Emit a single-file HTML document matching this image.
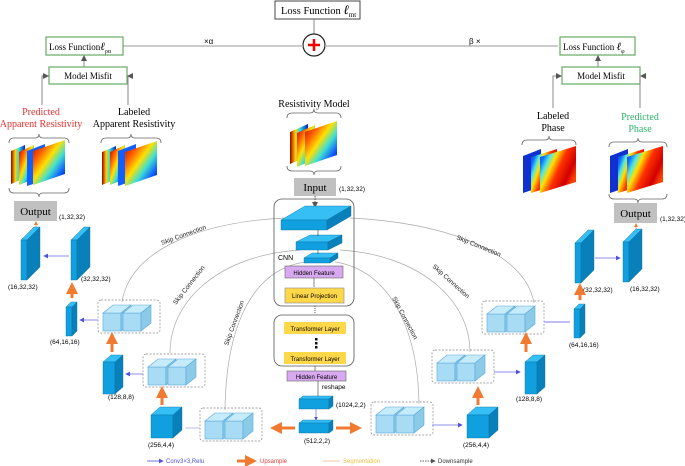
<!DOCTYPE html>
<html><head><meta charset="utf-8"><style>
html,body{margin:0;padding:0;background:#fff}
svg{display:block;font-family:"Liberation Sans",sans-serif}
.s{font-family:"Liberation Serif",serif}
</style></head><body>
<svg width="685" height="466" viewBox="0 0 685 466" xmlns="http://www.w3.org/2000/svg">
<defs>
<linearGradient id="jet" x1="0" y1="0" x2="1" y2="1">
<stop offset="0" stop-color="#b00000"/><stop offset="0.25" stop-color="#ff5a00"/><stop offset="0.45" stop-color="#ffe000"/><stop offset="0.62" stop-color="#40e0d0"/><stop offset="0.8" stop-color="#1060ff"/><stop offset="1" stop-color="#000090"/></linearGradient>
<linearGradient id="jet2" x1="0" y1="0" x2="1" y2="0">
<stop offset="0" stop-color="#a00000"/><stop offset="0.3" stop-color="#ffd000"/><stop offset="0.55" stop-color="#30e0e0"/><stop offset="1" stop-color="#0020c0"/></linearGradient>
<linearGradient id="ph" x1="0" y1="0" x2="1" y2="0.6">
<stop offset="0" stop-color="#1030e0"/><stop offset="0.18" stop-color="#1070ff"/><stop offset="0.3" stop-color="#50e8e0"/><stop offset="0.42" stop-color="#ffe000"/><stop offset="0.6" stop-color="#ff3000"/><stop offset="0.85" stop-color="#d00000"/><stop offset="1" stop-color="#ff4000"/></linearGradient>
<marker id="a" markerWidth="6" markerHeight="6" refX="5" refY="3" orient="auto"><path d="M0,0L6,3L0,6z" fill="#555"/></marker>
<marker id="ab" markerWidth="6" markerHeight="6" refX="5" refY="3" orient="auto"><path d="M0,0L6,3L0,6z" fill="#5050e0"/></marker>
<marker id="ao" markerWidth="4" markerHeight="4" refX="2" refY="2" orient="auto"><path d="M0,0L4,2L0,4z" fill="#f07a30"/></marker>
<g id="cube"><rect x="0" y="0" width="18" height="18" fill="#a8dcf5" stroke="#5aa8d8" stroke-width="0.6"/><path d="M0,0L10,-8L28,-8L18,0z" fill="#c6ebfb" stroke="#5aa8d8" stroke-width="0.6"/><path d="M18,0L28,-8L28,10L18,18z" fill="#8ccbe8" stroke="#5aa8d8" stroke-width="0.6"/></g>
<g id="pair"><rect x="-5" y="-13" width="62" height="33" rx="3" fill="none" stroke="#888" stroke-dasharray="2,1.5" stroke-width="0.7"/><use href="#cube"/><use href="#cube" x="20"/></g>
</defs>

<rect x="275" y="1" width="85" height="18" fill="#fff" stroke="#444"/>
<text x="281" y="14" font-size="10.5" class="s">Loss  Function  <tspan font-style="italic" font-size="13">ℓ</tspan><tspan font-size="7" dy="3">mt</tspan></text>
<line x1="314" y1="19" x2="314" y2="34" stroke="#888"/>
<circle cx="314" cy="45" r="11" fill="#fff" stroke="#222" stroke-width="1.2"/>
<path d="M308,45h12M314,39v12" stroke="#e00" stroke-width="2.5"/>
<line x1="123" y1="46" x2="303" y2="46" stroke="#bbb" stroke-width="1.5"/>
<line x1="325" y1="46" x2="558" y2="46" stroke="#bbb" stroke-width="1.5"/>
<text x="204" y="44" font-size="8">×α</text>
<text x="469" y="44" font-size="8">β ×</text>
<rect x="46" y="37" width="77" height="18" fill="#fff" stroke="#6a6" stroke-width="1.2"/>
<text x="49" y="50" font-size="9" class="s">Loss Function<tspan font-style="italic" font-size="11">ℓ</tspan><tspan font-size="6" dy="3">ρα</tspan></text>
<rect x="560" y="37" width="75" height="18" fill="#fff" stroke="#6a6" stroke-width="1.2"/>
<text x="563" y="50" font-size="9" class="s">Loss Function <tspan font-style="italic" font-size="11">ℓ</tspan><tspan font-size="6" dy="3">φ</tspan></text>
<rect x="49" y="67" width="78" height="17" fill="#fff" stroke="#6a6" stroke-width="1.2"/>
<text x="88" y="79" font-size="9" class="s" text-anchor="middle">Model Misfit</text>
<rect x="562" y="67" width="78" height="17" fill="#fff" stroke="#6a6" stroke-width="1.2"/>
<text x="601" y="79" font-size="9" class="s" text-anchor="middle">Model Misfit</text>
<line x1="84" y1="67" x2="84" y2="56" stroke="#888" marker-end="url(#a)"/>
<line x1="598" y1="67" x2="598" y2="56" stroke="#888" marker-end="url(#a)"/>
<path d="M42,105V76H48" fill="none" stroke="#888" marker-end="url(#a)"/>
<path d="M128,105V76H128" fill="none" stroke="#888"/><path d="M133,76H128" stroke="#888" marker-end="url(#a)"/>
<path d="M553,108V76H561" fill="none" stroke="#888" marker-end="url(#a)"/>
<path d="M640,108V76" fill="none" stroke="#888"/><path d="M646,76H641" stroke="#888" marker-end="url(#a)"/>

<text x="41" y="115" font-size="10" fill="#e83030" text-anchor="middle" class="s">Predicted</text>
<text x="41" y="127" font-size="10" fill="#e83030" text-anchor="middle" class="s">Apparent Resistivity</text>
<text x="134" y="115" font-size="10" text-anchor="middle" class="s">Labeled</text>
<text x="134" y="127" font-size="10" text-anchor="middle" class="s">Apparent Resistivity</text>
<text x="314" y="107" font-size="10" text-anchor="middle" class="s">Resistivity Model</text>
<text x="553" y="119" font-size="10" text-anchor="middle" class="s">Labeled</text>
<text x="553" y="131" font-size="10" text-anchor="middle" class="s">Phase</text>
<text x="640" y="120" font-size="10" fill="#2db36a" text-anchor="middle" class="s">Predicted</text>
<text x="640" y="132" font-size="10" fill="#2db36a" text-anchor="middle" class="s">Phase</text>

<g fill="none" stroke="#666" stroke-width="0.8">
<path d="M9,143q0,-5 5,-5h21q4,0 4,-4q0,4 4,4h21q5,0 5,5"/>
<path d="M9,188q0,5 5,5h21q4,0 4,4q0,-4 4,-4h21q5,0 5,-5"/>
<path d="M101,143q0,-5 5,-5h21q4,0 4,-4q0,4 4,4h21q5,0 5,5"/>
<path d="M287,118q0,-5 5,-5h18q4,0 4,-4q0,4 4,4h18q5,0 5,5"/>
<path d="M287,166q0,5 5,5h18q4,0 4,4q0,-4 4,-4h18q5,0 5,-5"/>
<path d="M522,145q0,-5 5,-5h18q4,0 4,-4q0,4 4,4h18q5,0 5,5"/>
<path d="M609,147q0,-5 5,-5h20q4,0 4,-4q0,4 4,4h20q5,0 5,5"/>
<path d="M609,194q0,5 5,5h20q4,0 4,4q0,-4 4,-4h20q5,0 5,-5"/>
</g>
<g>
<path d="M11,151l14,-6v33l-14,6z" fill="url(#jet2)"/><path d="M19,152l15,-7v34l-15,6z" fill="url(#jet)"/><path d="M27,151l18,-7v36l-18,6z" fill="#1060ff"/><path d="M33,151l32,-11v34l-32,11z" fill="url(#jet)"/>
<path d="M102,152l14,-6v33l-14,6z" fill="url(#jet2)"/><path d="M110,152l15,-7v34l-15,6z" fill="url(#jet)"/><path d="M118,151l18,-7v36l-18,6z" fill="#1060ff"/><path d="M125,152l32,-11v34l-32,11z" fill="url(#jet)"/>
<path d="M290,132l18,-8v32l-18,8z" fill="url(#jet2)"/><path d="M297,133l18,-8v34l-18,8z" fill="url(#jet)"/><path d="M305,132l32,-11v34l-32,11z" fill="url(#jet)"/>
<path d="M523,156l18,-7v38l-18,6z" fill="#1030d0"/><path d="M531,157l26,-8v36l-26,8z" fill="url(#ph)"/><path d="M540,157l36,-11v36l-36,11z" fill="url(#ph)"/>
<path d="M610,156l18,-7v38l-18,6z" fill="#1030d0"/><path d="M618,157l26,-8v36l-26,8z" fill="url(#ph)"/><path d="M627,157l36,-11v36l-36,11z" fill="url(#ph)"/>
</g>

<rect x="294" y="178" width="42" height="18" fill="#c0c0c0"/>
<text x="315" y="191" font-size="11" text-anchor="middle" class="s">Input</text>
<text x="339" y="191" font-size="6.5">(1,32,32)</text>
<line x1="315" y1="196" x2="315" y2="207" stroke="#555" stroke-dasharray="1.5,1" marker-end="url(#a)"/>
<rect x="14" y="201" width="43" height="20" fill="#c0c0c0"/>
<text x="35.5" y="215" font-size="11" text-anchor="middle" class="s">Output</text>
<text x="59" y="219" font-size="6.5">(1,32,32)</text>
<rect x="614" y="203" width="43" height="20" fill="#c0c0c0"/>
<text x="635.5" y="217" font-size="11" text-anchor="middle" class="s">Output</text>
<text x="660" y="221" font-size="6.5">(1,32,32)</text>
<line x1="36" y1="233" x2="36" y2="223" stroke="#f0a880" marker-end="url(#ao)"/>
<line x1="636" y1="234" x2="636" y2="225" stroke="#f0a880" marker-end="url(#ao)"/>

<g fill="none" stroke="#aaa" stroke-width="0.7">
<path d="M285,218C200,222 130,250 122,302"/>
<path d="M350,218C440,222 525,250 534,303"/>
<path d="M300,250C220,255 170,300 170,353"/>
<path d="M340,250C420,255 470,300 470,352"/>
<path d="M305,262C250,270 226,330 225,410"/>
<path d="M335,262C390,270 418,330 419,404"/>
</g>
<g font-size="6.5" fill="#222">
<text transform="translate(162,245) rotate(-20)">Skip Connection</text>
<text transform="translate(456,239) rotate(22)">Skip Connection</text>
<text transform="translate(176,305) rotate(-52)">Skip Connection</text>
<text transform="translate(432,267) rotate(42)">Skip Connection</text>
<text transform="translate(228,346) rotate(-70)">Skip Connection</text>
<text transform="translate(392,298) rotate(62)">Skip Connection</text>
</g>

<rect x="274" y="199" width="80" height="107" rx="8" fill="none" stroke="#555" stroke-width="0.8"/>
<g stroke="#0a6ea0" stroke-width="0.4">
<path d="M281,220h46l24,-14h-46z" fill="#35bff5"/><rect x="281" y="220" width="46" height="10" fill="#10a0e0"/><path d="M327,220l24,-14v10l-24,14z" fill="#0a80bb"/>
<path d="M296,242h32l14,-7h-32z" fill="#35bff5"/><rect x="296" y="242" width="32" height="8" fill="#10a0e0"/><path d="M328,242l14,-7v8l-14,7z" fill="#0a80bb"/>
<path d="M304,258h26l8,-5h-26z" fill="#35bff5"/><rect x="304" y="258" width="26" height="5" fill="#10a0e0"/><path d="M330,258l8,-5v5l-8,5z" fill="#0a80bb"/>
</g>
<line x1="318" y1="230" x2="318" y2="236" stroke="#333" stroke-width="0.6"/>
<line x1="318" y1="250" x2="318" y2="254" stroke="#333" stroke-width="0.6"/>
<text x="278" y="260" font-size="7">CNN</text>
<rect x="285" y="266" width="58" height="12" fill="#d8a8f0" stroke="#666" stroke-width="0.6"/>
<text x="314" y="275" font-size="6" text-anchor="middle">Hidden Feature</text>
<rect x="285" y="288" width="59" height="15" fill="#ffd84a" stroke="#888" stroke-width="0.6"/>
<text x="314.5" y="298" font-size="6" text-anchor="middle">Linear Projection</text>
<line x1="314" y1="278" x2="314" y2="287" stroke="#333" stroke-width="0.6"/>
<line x1="315" y1="306" x2="315" y2="314" stroke="#555" stroke-dasharray="1,1"/>
<rect x="274" y="315" width="80" height="51" rx="8" fill="none" stroke="#555" stroke-width="0.8"/>
<rect x="284" y="322" width="62" height="12" fill="#ffd84a"/>
<text x="315" y="331" font-size="6" text-anchor="middle">Transformer Layer</text>
<rect x="315" y="338" width="2.5" height="2.5" fill="#111"/><rect x="315" y="342" width="2.5" height="2.5" fill="#111"/><rect x="315" y="346" width="2.5" height="2.5" fill="#111"/>
<rect x="284" y="352" width="62" height="12" fill="#ffd84a"/>
<text x="315" y="361" font-size="6" text-anchor="middle">Transformer Layer</text>
<line x1="315" y1="366" x2="315" y2="371" stroke="#333" stroke-width="0.6"/>
<rect x="287" y="371" width="59" height="10" fill="#d8a8f0" stroke="#666" stroke-width="0.6"/>
<text x="316.5" y="379" font-size="6" text-anchor="middle">Hidden Feature</text>
<line x1="318" y1="381" x2="318" y2="396" stroke="#333" stroke-width="0.6"/>
<text x="322" y="389" font-size="6.5">reshape</text>
<g stroke="#0a6ea0" stroke-width="0.4">
<path d="M299,399h30l4,-3h-30z" fill="#35bff5"/><rect x="299" y="399" width="30" height="10" fill="#10a0e0"/><path d="M329,399l4,-3v10l-4,3z" fill="#0a80bb"/>
<path d="M299,423h30l4,-3h-30z" fill="#35bff5"/><rect x="299" y="423" width="30" height="10" fill="#10a0e0"/><path d="M329,423l4,-3v10l-4,3z" fill="#0a80bb"/>
</g>
<text x="336" y="407" font-size="6.5">(1024,2,2)</text>
<text x="317" y="443" font-size="6.5" text-anchor="middle">(512,2,2)</text>
<line x1="316" y1="409" x2="316" y2="420" stroke="#5050e0" stroke-width="0.6" marker-end="url(#ab)"/>
<line x1="295" y1="428" x2="276" y2="428" stroke="#f07a30" stroke-width="3" marker-end="url(#ao)"/>
<line x1="336" y1="428" x2="356" y2="428" stroke="#f07a30" stroke-width="3" marker-end="url(#ao)"/>

<use href="#pair" x="205" y="421"/>
<use href="#pair" x="148" y="367"/>
<use href="#pair" x="103" y="313"/>
<use href="#pair" x="376" y="415"/>
<use href="#pair" x="437" y="363"/>
<use href="#pair" x="487" y="314"/>

<g stroke="#0a6ea0" stroke-width="0.4">
<path d="M21,240h6l13,-13h-6z" fill="#35bff5"/><rect x="21" y="240" width="6" height="40" fill="#10a0e0"/><path d="M27,240l13,-13v40l-13,13z" fill="#0a80bb"/>
<path d="M71,240h6l13,-13h-6z" fill="#35bff5"/><rect x="71" y="240" width="6" height="40" fill="#10a0e0"/><path d="M77,240l13,-13v40l-13,13z" fill="#0a80bb"/>
<path d="M66,307h6l5,-5h-6z" fill="#35bff5"/><rect x="66" y="307" width="6" height="29" fill="#10a0e0"/><path d="M72,307l5,-5v29l-5,5z" fill="#0a80bb"/>
<path d="M103,362h12l8,-7h-12z" fill="#35bff5"/><rect x="103" y="362" width="12" height="32" fill="#10a0e0"/><path d="M115,362l8,-7v32l-8,7z" fill="#0a80bb"/>
<path d="M151,415h22l9,-8h-22z" fill="#35bff5"/><rect x="151" y="415" width="22" height="23" fill="#10a0e0"/><path d="M173,415l9,-8v23l-9,8z" fill="#0a80bb"/>
<path d="M575,243h6l13,-13h-6z" fill="#35bff5"/><rect x="575" y="243" width="6" height="40" fill="#10a0e0"/><path d="M581,243l13,-13v40l-13,13z" fill="#0a80bb"/>
<path d="M623,242h6l13,-13h-6z" fill="#35bff5"/><rect x="623" y="242" width="6" height="40" fill="#10a0e0"/><path d="M629,242l13,-13v40l-13,13z" fill="#0a80bb"/>
<path d="M574,309h6l5,-5h-6z" fill="#35bff5"/><rect x="574" y="309" width="6" height="29" fill="#10a0e0"/><path d="M580,309l5,-5v29l-5,5z" fill="#0a80bb"/>
<path d="M525,362h12l8,-7h-12z" fill="#35bff5"/><rect x="525" y="362" width="12" height="32" fill="#10a0e0"/><path d="M537,362l8,-7v32l-8,7z" fill="#0a80bb"/>
<path d="M467,415h22l9,-8h-22z" fill="#35bff5"/><rect x="467" y="415" width="22" height="23" fill="#10a0e0"/><path d="M489,415l9,-8v23l-9,8z" fill="#0a80bb"/>
</g>
<g font-size="6.5">
<text x="8" y="289">(16,32,32)</text><text x="81" y="281">(32,32,32)</text>
<text x="50" y="344">(64,16,16)</text><text x="108" y="399">(128,8,8)</text><text x="148" y="447">(256,4,4)</text>
<text x="583" y="292">(32,32,32)</text><text x="630" y="291">(16,32,32)</text>
<text x="569" y="347">(64,16,16)</text><text x="516" y="401">(128,8,8)</text><text x="463" y="447">(256,4,4)</text>
</g>
<g stroke="#6a6ae8" stroke-width="0.8">
<line x1="69" y1="256" x2="44" y2="256" marker-end="url(#ab)"/>
<line x1="595" y1="258" x2="620" y2="258" marker-end="url(#ab)"/>
<line x1="98" y1="320" x2="80" y2="320" marker-end="url(#ab)"/>
<line x1="143" y1="374" x2="126" y2="374" marker-end="url(#ab)"/>
<line x1="200" y1="428" x2="185" y2="428" stroke="#a8a8f0"/>
<line x1="544" y1="322" x2="570" y2="322" stroke="#a8a8f0" stroke-width="1.5"/>
<line x1="494" y1="372" x2="520" y2="372" marker-end="url(#ab)"/>
<line x1="432" y1="425" x2="462" y2="425" marker-end="url(#ab)"/>
</g>
<g stroke="#f07a30" stroke-width="3">
<line x1="72" y1="298" x2="72" y2="288" marker-end="url(#ao)"/>
<line x1="112" y1="352" x2="112" y2="338" marker-end="url(#ao)"/>
<line x1="162" y1="405" x2="162" y2="392" marker-end="url(#ao)"/>
<line x1="580" y1="300" x2="580" y2="289" marker-end="url(#ao)"/>
<line x1="526" y1="352" x2="526" y2="338" marker-end="url(#ao)"/>
<line x1="478" y1="405" x2="478" y2="392" marker-end="url(#ao)"/>
</g>
<line x1="147" y1="461" x2="163" y2="461" stroke="#5050e0" stroke-width="0.8" marker-end="url(#ab)"/>
<text x="166" y="463" font-size="6" fill="#5050e0">Conv3×3,Relu</text>
<line x1="237" y1="461" x2="251" y2="461" stroke="#f07a30" stroke-width="3" marker-end="url(#ao)"/>
<text x="260" y="463" font-size="6" fill="#e04040">Upsample</text>
<line x1="323" y1="461" x2="340" y2="461" stroke="#f0b080" stroke-width="0.8"/>
<text x="343" y="463" font-size="6" fill="#f0c040">Segmentation</text>
<line x1="420" y1="461" x2="435" y2="461" stroke="#333" stroke-dasharray="1.5,1" stroke-width="0.8" marker-end="url(#a)"/>
<text x="438" y="463" font-size="6" fill="#333">Downsample</text>
</svg>
</body></html>
